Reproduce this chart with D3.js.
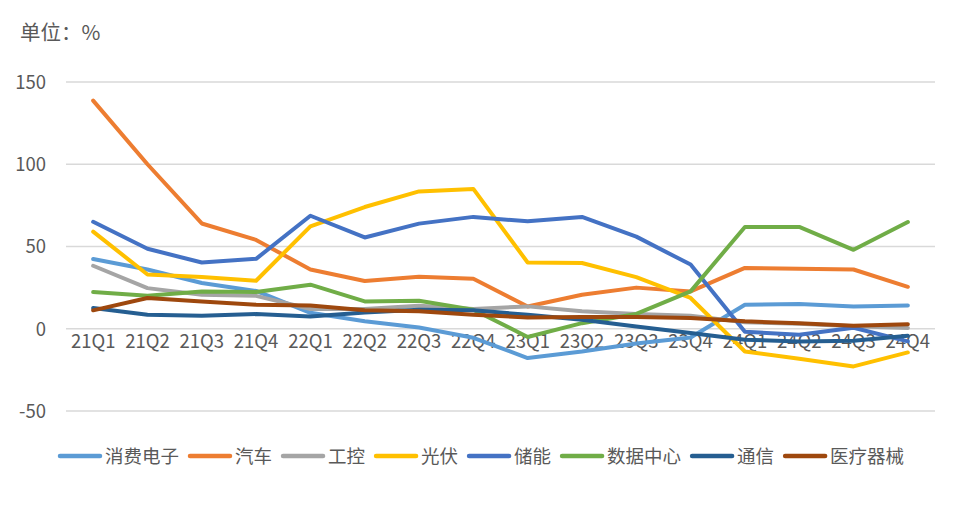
<!DOCTYPE html>
<html><head><meta charset="utf-8">
<script src="https://cdn.jsdelivr.net/npm/d3@7/dist/d3.min.js"></script>
<style>body{margin:0;background:#fff;}svg{display:block;font-family:"Noto Sans CJK SC","Noto Sans",sans-serif;}</style>
</head><body>
<svg id="c" width="957" height="512"></svg>
<script>
const categories = ["21Q1","21Q2","21Q3","21Q4","22Q1","22Q2","22Q3","22Q4","23Q1","23Q2","23Q3","23Q4","24Q1","24Q2","24Q3","24Q4"];
const seriesNames = ["消费电子","汽车","工控","光伏","储能","数据中心","通信","医疗器械"];
const colors = ["#5B9BD5","#ED7D31","#A5A5A5","#FFC000","#4472C4","#70AD47","#255E91","#9E480E"];
const consumer = [42.4,36,27.8,23,9.7,4.5,0.8,-5.5,-17.8,-13.8,-9,-5.3,14.6,15,13.6,14.2];
const auto = [138.7,100,64,54,36,29,31.6,30.4,13.5,20.7,25,22.7,37,36.5,36,25.5];
const industrial = [38.3,24.7,20.7,20,12,12,14,12,13.6,10.6,9,7.9,4,3,1.5,0.5];
const solar = [59,33,31.4,29.2,62.2,74,83.5,85,40.3,40,31.4,18.7,-13.8,-18.3,-22.9,-14.4];
const storage = [65,48.6,40.3,42.5,68.7,55.5,63.9,68,65.3,68,56,39,-1.8,-3.6,0.6,-7.7];
const datacenter = [22.3,20,22.7,22.3,26.8,16.6,17,11.6,-5,3.4,9,22.7,61.9,61.9,48,64.9];
const telecom = [12.6,8.5,7.9,8.9,7.5,9.9,11.6,11.2,8.5,5.5,1.4,-2.6,-6.7,-7.7,-7.3,-4.3];
const medical = [11.2,18.7,16.6,14.6,14.2,11.2,10.6,8.5,6.9,7.1,7.1,6.5,4.5,3.4,1.8,2.8];
const yTicks = [-50,0,50,100,150];
const unitLabel = "单位：%";

const series = [consumer,auto,industrial,solar,storage,datacenter,telecom,medical];
const svg = d3.select("#c");
const txt = "#595959";
const x = d3.scaleBand().domain(categories).range([66,935]);
const y = d3.scaleLinear().domain([-50,150]).range([411,82]);

svg.append("text").attr("x",20).attr("y",40).attr("font-size",20.5).attr("fill",txt).text(unitLabel);

const yAxis = d3.axisLeft(y).tickValues(yTicks).tickFormat(d=>String(d)).tickSize(0).tickPadding(0);
const gy = svg.append("g").attr("transform","translate(46,0)").call(yAxis);
gy.select(".domain").remove();
gy.selectAll("text").attr("font-size",18.5).attr("fill",txt).attr("font-family","\"Noto Sans CJK SC\",sans-serif").attr("dy","0.35em");

svg.append("g").selectAll("line").data(yTicks).join("line")
  .attr("x1",66).attr("x2",935).attr("y1",d=>y(d)).attr("y2",d=>y(d))
  .attr("stroke","#d9d9d9").attr("stroke-width",1.5);

const xAxis = d3.axisBottom(x).tickSize(0).tickPadding(0);
const gx = svg.append("g").attr("transform",`translate(0,${y(0)})`).call(xAxis);
gx.select(".domain").remove();
gx.selectAll("text").attr("font-size",18.5).attr("fill",txt).attr("font-family","\"Noto Sans CJK SC\",sans-serif").attr("dy","1.05em");

const line = d3.line().x((d,i)=>x(categories[i])+x.bandwidth()/2).y(d=>y(d));
series.forEach((s,k)=>{
  svg.append("path").datum(s).attr("d",line).attr("fill","none")
    .attr("stroke",colors[k]).attr("stroke-width",4)
    .attr("stroke-linejoin","round").attr("stroke-linecap","round");
});

const lg = svg.append("g");
let lx = 58; const ly = 456;
seriesNames.forEach((n,k)=>{
  lg.append("line").attr("x1",lx+2).attr("x2",lx+42).attr("y1",ly).attr("y2",ly)
    .attr("stroke",colors[k]).attr("stroke-width",4.5).attr("stroke-linecap","round");
  const t = lg.append("text").attr("x",lx+47).attr("y",ly).attr("dy","0.36em")
    .attr("font-size",18.5).attr("fill",txt).text(n);
  lx += 47 + t.node().getComputedTextLength() + 9;
});
</script>
</body></html>
